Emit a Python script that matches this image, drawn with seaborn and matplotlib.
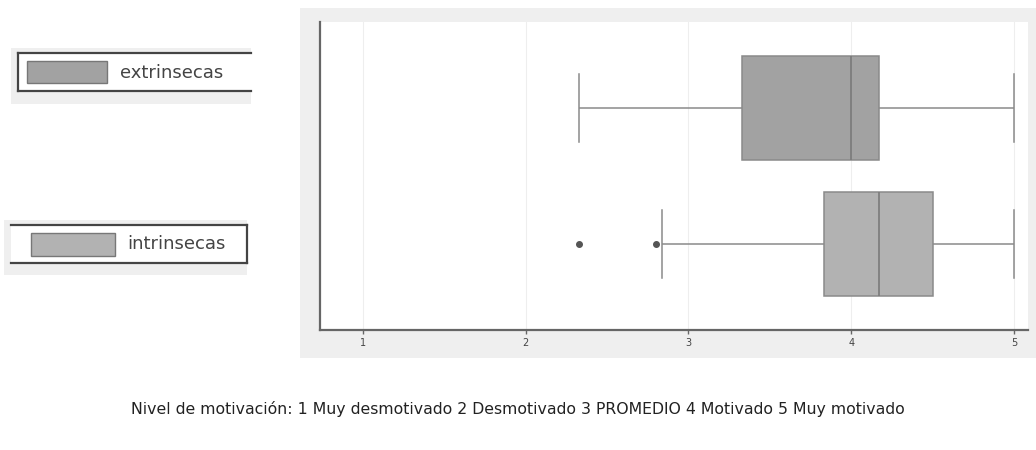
import numpy as np
import pandas as pd
import matplotlib
matplotlib.use("Agg")
import matplotlib.pyplot as plt
from matplotlib.patches import Rectangle
import seaborn as sns

# Scores read off the reference so that the box statistics match
# (quartiles, median, whiskers and outliers)
extrinsecas = [2.33, 3.0, 3.17, 3.33, 3.5, 3.83, 4.0, 4.0, 4.17, 4.17, 4.5, 4.83, 5.0]
intrinsecas = [2.33, 2.8, 2.84, 3.83, 4.0, 4.17, 4.17, 4.3, 4.5, 4.5, 4.67, 5.0, 5.0]
groups = ["extrinsecas", "intrinsecas"]
box_colors = ["#a2a2a2", "#b2b2b2"]
x_ticks = [1, 2, 3, 4, 5]
caption = "Nivel de motivación: 1 Muy desmotivado 2 Desmotivado 3 PROMEDIO 4 Motivado 5 Muy motivado"

df = pd.DataFrame({
    "grupo": ["extrinsecas"] * len(extrinsecas) + ["intrinsecas"] * len(intrinsecas),
    "valor": extrinsecas + intrinsecas,
})

W, H = 1036, 450
fig = plt.figure(figsize=(W / 100, H / 100), dpi=100)
fig.patch.set_facecolor("white")

# grey panel behind the plot
fig.patches.append(Rectangle((300 / W, 1 - 358 / H), 736 / W, 350 / H,
                             transform=fig.transFigure, facecolor="#efefef",
                             edgecolor="none", zorder=-5))

ax = fig.add_axes([320 / W, 1 - 330 / H, 708 / W, 308 / H])
ax.set_zorder(1)
ax.set_facecolor("white")

sns.boxplot(data=df, x="valor", y="grupo", hue="grupo", order=groups,
            palette=box_colors, legend=False, width=0.76, whis=1.5,
            saturation=1, linecolor="#8a8a8a", linewidth=1.1,
            fliersize=4, capwidths=0.5,
            flierprops=dict(marker="o", markerfacecolor="#555555",
                            markeredgecolor="#555555"),
            medianprops=dict(color="#7a7a7a", linewidth=1.2),
            ax=ax)

ax.set_xlim(0.736, 5.086)
ax.set_ylim(1.632, -0.632)
ax.set_xticks(x_ticks)
ax.set_xticklabels([str(t) for t in x_ticks], fontsize=7, color="#444444")
ax.set_yticks([])
ax.set_xlabel("")
ax.set_ylabel("")
ax.grid(axis="x", color="#eeeeee", linewidth=0.8)
ax.set_axisbelow(True)
for s in ["top", "right"]:
    ax.spines[s].set_visible(False)
for s in ["left", "bottom"]:
    ax.spines[s].set_color("#666666")
    ax.spines[s].set_linewidth(1.6)
ax.tick_params(axis="x", length=3, width=1, color="#666666", pad=3)


# legend-like labels on the left
def label_box(x0, x1, y0, y1, band0, band1, closed_right):
    fig.patches.append(Rectangle((x0 - 7 / W, 1 - band1 / H),
                                 (x1 - x0) + 7 / W, (band1 - band0) / H,
                                 transform=fig.transFigure, facecolor="#efefef",
                                 edgecolor="none", zorder=-5))
    fig.patches.append(Rectangle((x0, 1 - y1 / H), x1 - x0, (y1 - y0) / H,
                                 transform=fig.transFigure, facecolor="white",
                                 edgecolor="none", zorder=-4))
    lines = [((x0, x1), (1 - y0 / H, 1 - y0 / H)), ((x0, x1), (1 - y1 / H, 1 - y1 / H))]
    if closed_right:
        lines.append(((x1, x1), (1 - y0 / H, 1 - y1 / H)))
    else:
        lines.append(((x0, x0), (1 - y0 / H, 1 - y1 / H)))
    for xs, ys in lines:
        fig.add_artist(plt.Line2D(xs, ys, transform=fig.transFigure,
                                  color="#444444", linewidth=1.6, zorder=2))


label_box(18 / W, 251 / W, 53, 91, 48, 104, False)
fig.patches.append(Rectangle((27 / W, 1 - 83 / H), 80 / W, 22 / H, transform=fig.transFigure,
                             facecolor=box_colors[0], edgecolor="#777777", linewidth=1, zorder=3))
fig.text(120 / W, 1 - 73 / H, groups[0], fontsize=13, color="#444444", va="center", ha="left")

label_box(11 / W, 247 / W, 225, 263, 220, 275, True)
fig.patches.append(Rectangle((31 / W, 1 - 256 / H), 84 / W, 23 / H, transform=fig.transFigure,
                             facecolor=box_colors[1], edgecolor="#777777", linewidth=1, zorder=3))
fig.text(127 / W, 1 - 244 / H, groups[1], fontsize=13, color="#444444", va="center", ha="left")

fig.text(518 / W, 1 - 409 / H, caption, fontsize=11.3, color="#222222", ha="center", va="center")

fig.savefig("out.png", dpi=100)
